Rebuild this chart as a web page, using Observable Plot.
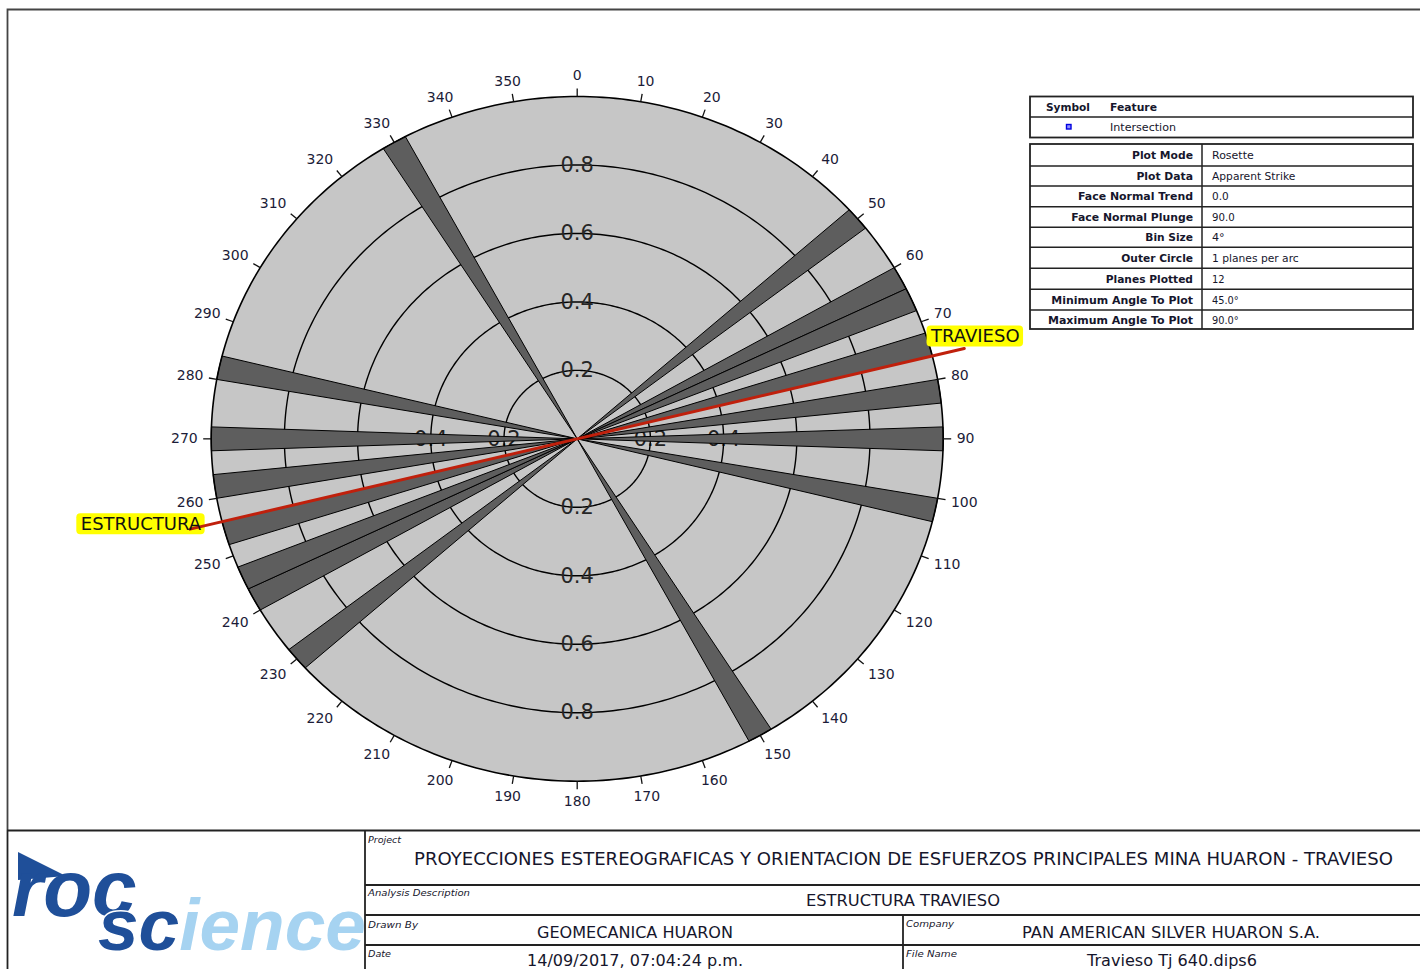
<!DOCTYPE html>
<html><head><meta charset="utf-8">
<script src="https://cdn.jsdelivr.net/npm/d3@7"></script>
<script src="https://cdn.jsdelivr.net/npm/@observablehq/plot@0.6"></script>
<style>
html,body{margin:0;padding:0;background:#fff;overflow:hidden;width:1420px;height:969px;}
#chart{position:absolute;left:0;top:0;}
#overlay{position:absolute;left:0;top:0;}
</style></head><body>
<div id="chart"></div>
<svg id="overlay" width="1420" height="969"></svg>
<script>
// ---------------- DATA ----------------
// Rosette bins (apparent strike, bin size 4°) in the 0–180 half; mirrored +180
const binStart = [48, 60, 64, 72, 80, 88, 100, 148];
const binCount = [1, 1, 1, 1, 1, 1, 1, 1];
const binSize = 4;
const ringValues = [0.2, 0.4, 0.6, 0.8];
const ringLabelsVertical = ["0.2", "0.4", "0.6", "0.8"];
const ringLabelsHorizontal = ["0.2", "0.4"];
const tickAngles = [0,10,20,30,40,50,60,70,80,90,100,110,120,130,140,150,160,170,180,190,200,210,220,230,240,250,260,270,280,290,300,310,320,330,340,350];
const tickLabels = ["0","10","20","30","40","50","60","70","80","90","100","110","120","130","140","150","160","170","180","190","200","210","220","230","240","250","260","270","280","290","300","310","320","330","340","350"];
const structTrend = 76;      // red structure line trend
const structLength = 1.09;   // relative to outer circle
const structLabels = ["TRAVIESO", "ESTRUCTURA"];

const legendHeader = ["Symbol", "Feature"];
const legendFeature = ["Intersection"];
const paramNames = ["Plot Mode","Plot Data","Face Normal Trend","Face Normal Plunge","Bin Size","Outer Circle","Planes Plotted","Minimum Angle To Plot","Maximum Angle To Plot"];
const paramValues = ["Rosette","Apparent Strike","0.0","90.0","4°","1 planes per arc","12","45.0°","90.0°"];

const tbProject = "PROYECCIONES ESTEREOGRAFICAS Y ORIENTACION DE ESFUERZOS PRINCIPALES MINA HUARON - TRAVIESO";
const tbAnalysis = "ESTRUCTURA TRAVIESO";
const tbDrawnBy = "GEOMECANICA HUARON";
const tbCompany = "PAN AMERICAN SILVER HUARON S.A.";
const tbDate = "14/09/2017, 07:04:24 p.m.";
const tbFile = "Travieso Tj 640.dips6";

// ---------------- CHART ----------------
const W = 1020, H = 830;
const X0 = 210.7, X1 = 942.7, Y0 = 96, Y1 = 780.7;
const RX = (X1 - X0) / 2, RY = (Y1 - Y0) / 2;
const rad = d => d * Math.PI / 180;
const P = (deg, r) => ({x: r * Math.sin(rad(deg)), y: r * Math.cos(rad(deg))});
const FONT = "DejaVu Sans, Verdana, sans-serif";

const circle = (r, id) => d3.range(0, 361, 1).map(a => ({...P(a, r), id}));
const disk = circle(1, "disk");
const rings = ringValues.flatMap(r => circle(r, "r" + r));

const petals = [];
binStart.forEach((s, i) => {
  [s, s + 180].forEach(a0 => {
    const id = "p" + a0;
    petals.push({x: 0, y: 0, id});
    for (let a = a0; a <= a0 + binSize + 1e-9; a += 0.5) petals.push({...P(a, binCount[i]), id});
    petals.push({x: 0, y: 0, id});
  });
});

const ticks = tickAngles.map(a => {
  const s = Math.sin(rad(a)), c = Math.cos(rad(a));
  return {x1: s, y1: c, x2: s * (1 + 8 / RX), y2: c * (1 + 8 / RY)};
});
const tickText = tickAngles.map((a, i) => {
  const s = Math.sin(rad(a)), c = Math.cos(rad(a));
  const hw = tickLabels[i].length * 4.45, hh = 7, g = 13.5;
  const ox = Math.sign(s) * hw * Math.min(1, Math.abs(s) * 1.6);
  const oy = Math.sign(c) * hh * Math.min(1, Math.abs(c) * 1.6);
  return {x: s * (1 + g / RX) + ox / RX, y: c * (1 + g / RY) + oy / RY, t: tickLabels[i]};
});

const ringTextV = ringValues.flatMap((r, i) => [{x: 0, y: r, t: ringLabelsVertical[i]}, {x: 0, y: -r, t: ringLabelsVertical[i]}]);
const ringTextH = ringLabelsHorizontal.flatMap(t => [{x: +t, y: 0, t}, {x: -t, y: 0, t}]);

const endA = P(structTrend, structLength), endB = P(structTrend + 180, structLength);
const structLine = [endB, endA];

// text measurement for label boxes
const ctx = document.createElement("canvas").getContext("2d");
ctx.font = "18px DejaVu Sans";
const wT = ctx.measureText(structLabels[0]).width, wE = ctx.measureText(structLabels[1]).width;
const lblT = {x: endA.x + 11 / RX, y: endA.y + 12 / RY, t: structLabels[0], w: wT};
const lblE = {x: endB.x + (15 - wE / 2 - 4) / RX, y: endB.y + 5 / RY, t: structLabels[1], w: wE};
const boxes = [lblT, lblE].map(d => ({x1: d.x - (d.w / 2 + 4) / RX, x2: d.x + (d.w / 2 + 4) / RX, y1: d.y - 10.5 / RY, y2: d.y + 10.5 / RY}));

const chart = Plot.plot({
  width: W, height: H,
  marginLeft: X0, marginRight: W - X1, marginTop: Y0, marginBottom: H - Y1,
  x: {domain: [-1, 1], axis: null},
  y: {domain: [-1, 1], axis: null},
  style: {background: "transparent", overflow: "visible", maxWidth: "none"},
  marks: [
    Plot.line(disk, {x: "x", y: "y", fill: "#c6c6c6", stroke: "none"}),
    Plot.text(ringTextH, {x: "x", y: "y", text: "t", fontSize: 21, fontFamily: FONT, fill: "#222"}),
    Plot.line(rings, {x: "x", y: "y", z: "id", stroke: "#000", strokeWidth: 1.4}),
    Plot.text(ringTextV, {x: "x", y: "y", text: "t", fontSize: 21, fontFamily: FONT, fill: "#262626"}),
    Plot.line(petals, {x: "x", y: "y", z: "id", fill: "#5e5e5e", stroke: "#000", strokeWidth: 1, strokeLinejoin: "miter"}),
    Plot.line(disk, {x: "x", y: "y", stroke: "#000", strokeWidth: 1.6}),
    Plot.link(ticks, {x1: "x1", y1: "y1", x2: "x2", y2: "y2", stroke: "#111", strokeWidth: 1.3}),
    Plot.text(tickText, {x: "x", y: "y", text: "t", fontSize: 14, fontFamily: FONT, fill: "#1c1c38"}),
    Plot.rect(boxes, {x1: "x1", x2: "x2", y1: "y1", y2: "y2", fill: "#ffff00", rx: 4}),
    Plot.line(structLine, {x: "x", y: "y", stroke: "#c0200c", strokeWidth: 3}),
    Plot.text([lblT, lblE], {x: "x", y: "y", text: "t", fontSize: 18, fontFamily: FONT, fill: "#111"})
  ]
});
document.getElementById("chart").appendChild(chart);

// ---------------- OVERLAY: frame, legend, title block ----------------
const svg = d3.select("#overlay");
const INK = "#16162c";
function txt(x, y, s, o = {}) {
  const t = svg.append("text").attr("x", x).attr("y", y).text(s)
    .attr("font-family", o.family || FONT).attr("font-size", o.size || 10)
    .attr("font-weight", o.weight || "normal").attr("font-style", o.style || "normal")
    .attr("text-anchor", o.anchor || "start").attr("fill", o.fill || INK);
  if (o.len) t.attr("textLength", o.len).attr("lengthAdjust", "spacingAndGlyphs");
  return t;
}
function line(x1, y1, x2, y2, w = 1.5, c = "#222") {
  svg.append("line").attr("x1", x1).attr("y1", y1).attr("x2", x2).attr("y2", y2).attr("stroke", c).attr("stroke-width", w);
}
// main frame
svg.append("path").attr("d", "M1425,9.5 H7.5 V830").attr("fill", "none").attr("stroke", "#444").attr("stroke-width", 1.8);

// legend table 1
svg.append("rect").attr("x", 1030).attr("y", 96.5).attr("width", 383).attr("height", 41).attr("fill", "#fff").attr("stroke", "#222").attr("stroke-width", 1.8);
line(1030, 117, 1413, 117, 1.6);
txt(1046, 111, legendHeader[0], {size: 10, weight: "bold", len: 44});
txt(1110, 111, legendHeader[1], {size: 10, weight: "bold", len: 47});
svg.append("rect").attr("x", 1066.5).attr("y", 124.5).attr("width", 4.5).attr("height", 4.5).attr("fill", "#9090ff").attr("stroke", "#0000e0").attr("stroke-width", 1.4);
txt(1110, 131, legendFeature[0], {size: 10, len: 66});

// legend table 2
const rowY = [144, 166, 186, 206.7, 227.3, 247.3, 268.3, 289.3, 310, 329];
const leftW = [61, 56.6, 115, 121.7, 47.7, 71.7, 87.3, 141.7, 145];
const rightW = [41.7, 83.3, 16.7, 22.7, 12.7, 86.7, 12.7, 26.7, 26.7];
svg.append("rect").attr("x", 1030).attr("y", 144).attr("width", 383).attr("height", 185).attr("fill", "#fff").attr("stroke", "#222").attr("stroke-width", 1.8);
rowY.slice(1, -1).forEach(y => line(1030, y, 1413, y, 1.5));
line(1202, 144, 1202, 329, 1.5);
paramNames.forEach((n, i) => {
  const base = (rowY[i] + rowY[i + 1]) / 2 + 4;
  txt(1193, base, n, {size: 10, weight: "bold", anchor: "end", len: leftW[i]});
  txt(1212, base, paramValues[i], {size: 10, len: rightW[i]});
});

// title block
line(7, 830.5, 1425, 830.5, 2.2);
line(7.5, 830, 7.5, 975, 1.8);
line(365, 830, 365, 975, 1.8);
line(365, 885, 1425, 885, 1.8);
line(365, 915, 1425, 915, 1.8);
line(365, 945, 1425, 945, 1.8);
line(903, 915, 903, 975, 1.8);
txt(368, 843, "Project", {size: 8.5, style: "italic", len: 33});
txt(368, 896, "Analysis Description", {size: 8.5, style: "italic", len: 102});
txt(368, 927.5, "Drawn By", {size: 8.5, style: "italic", len: 50});
txt(368, 956.5, "Date", {size: 8.5, style: "italic", len: 23});
txt(906, 927, "Company", {size: 8.5, style: "italic", len: 48});
txt(906, 956.5, "File Name", {size: 8.5, style: "italic", len: 51});
txt(414, 864.5, tbProject, {size: 18, len: 979});
txt(806, 906, tbAnalysis, {size: 16, len: 194});
txt(537, 937.5, tbDrawnBy, {size: 16, len: 196});
txt(1022, 937.5, tbCompany, {size: 16, len: 298});
txt(527, 965.5, tbDate, {size: 15, len: 216});
txt(1087, 965.5, tbFile, {size: 15, len: 170});

// logo (one text element with positioned tspans)
const DARK = "#1f4f99", LIGHT = "#a6d3f1";
svg.append("polygon").attr("points", "18,852 66,876 18,880").attr("fill", DARK);
const logo = svg.append("text")
  .attr("font-family", "Liberation Sans, Arial, sans-serif").attr("font-style", "italic").attr("font-weight", "bold");
logo.append("tspan").attr("x", 12).attr("y", 916).attr("font-size", 80).attr("fill", DARK).text("roc");
logo.append("tspan").attr("x", 98).attr("y", 950).attr("font-size", 73).attr("fill", DARK)
  .attr("stroke", "#fff").attr("stroke-width", 3).attr("paint-order", "stroke").text("sc");
logo.append("tspan").attr("font-size", 73).attr("fill", LIGHT).text("ience");
</script>
</body></html>
